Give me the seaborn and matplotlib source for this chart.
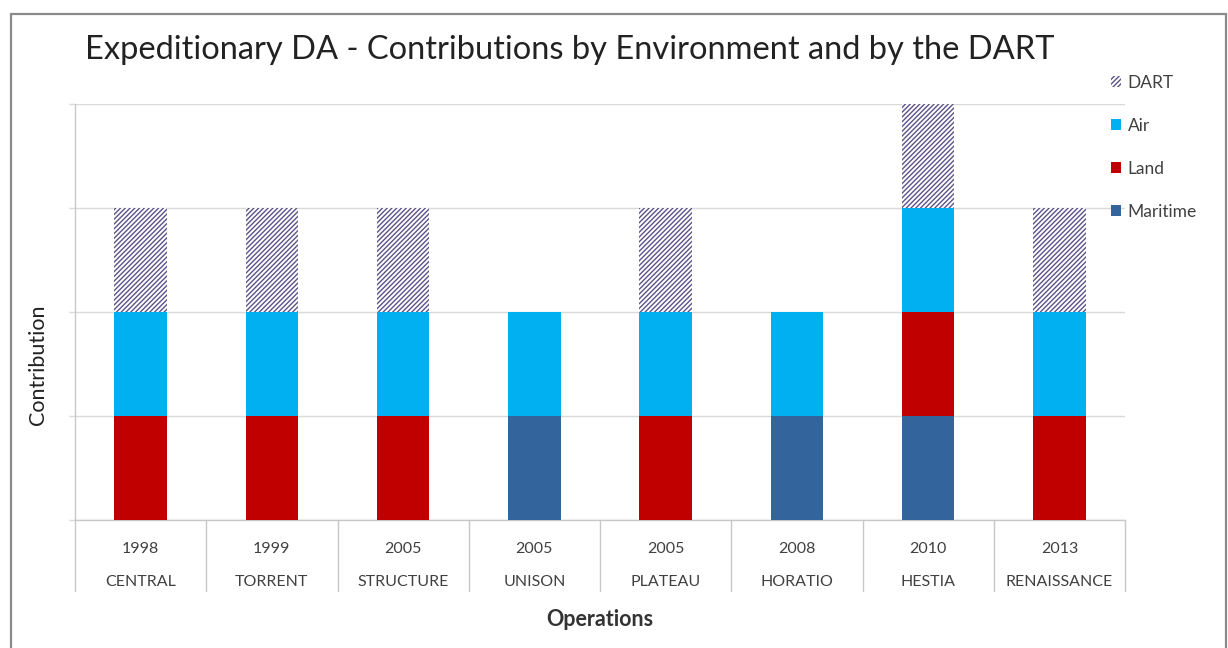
import matplotlib
matplotlib.use("Agg")
import matplotlib.pyplot as plt
import seaborn as sns
import pandas as pd
from matplotlib.patches import Patch, Rectangle

# Operations, their years and each environment's contribution
operations = ["CENTRAL", "TORRENT", "STRUCTURE", "UNISON", "PLATEAU",
              "HORATIO", "HESTIA", "RENAISSANCE"]
years = ["1998", "1999", "2005", "2005", "2005", "2008", "2010", "2013"]
maritime = [0, 0, 0, 1, 0, 1, 1, 0]
land = [1, 1, 1, 0, 1, 0, 1, 1]
air = [1, 1, 1, 1, 1, 1, 1, 1]
dart = [1, 1, 1, 0, 1, 0, 1, 1]

colors = {"Maritime": "#34649c", "Land": "#c00000", "Air": "#00b0f0"}
dart_hatch_color = "#5d5288"
text_color = "#404040"

sns.set_theme(style="white")
plt.rcParams["font.family"] = ["Lato", "DejaVu Sans"]
plt.rcParams["hatch.linewidth"] = 1.0

df = pd.DataFrame({
    "label": [f"{y}\n{o}" for y, o in zip(years, operations)],
    "Maritime": maritime, "Land": land, "Air": air, "DART": dart,
})
# cumulative tops for the stacked layers
df["top_maritime"] = df["Maritime"]
df["top_land"] = df["top_maritime"] + df["Land"]
df["top_air"] = df["top_land"] + df["Air"]
df["top_dart"] = df["top_air"] + df["DART"]

W, H = 1228, 648
fig = plt.figure(figsize=(W / 100, H / 100), dpi=100)
fig.patch.set_facecolor("white")

# outer chart frame
fig.patches.append(Rectangle((11 / W, -0.1), (1226 - 11) / W, 1.1 - 14 / H,
                             transform=fig.transFigure, fill=False,
                             edgecolor="#8a8a8a", linewidth=1.6))

ax = fig.add_axes([75 / W, 1 - 520 / H, 1050 / W, 416 / H])

bw = 0.4
hatch = "///////"
sns.barplot(data=df, x="label", y="top_dart", color="white", hatch=hatch,
            edgecolor=dart_hatch_color, linewidth=0, width=bw, saturation=1,
            ax=ax, zorder=2)
for col, name in [("top_air", "Air"), ("top_land", "Land"), ("top_maritime", "Maritime")]:
    sns.barplot(data=df, x="label", y=col, color=colors[name], linewidth=0,
                width=bw, saturation=1, ax=ax, zorder=3)

n = len(operations)
ax.set_xlim(-0.5, n - 0.5)
ax.set_ylim(0, 4)
ax.set_yticks(range(0, 5))
ax.set_yticklabels([])
ax.yaxis.grid(True, color="#d9d9d9", linewidth=1)
ax.set_axisbelow(True)
ax.tick_params(axis="y", left=True, length=4, color="#d9d9d9", width=1)
ax.tick_params(axis="x", length=0, pad=16, labelsize=11.5, labelcolor=text_color)
for t in ax.get_xticklabels():
    t.set_linespacing(2.75)
    t.set_verticalalignment("top")

for side in ["top", "right"]:
    ax.spines[side].set_visible(False)
for side in ["left", "bottom"]:
    ax.spines[side].set_color("#c8c8c8")
    ax.spines[side].set_linewidth(1)

# category separators below the axis
for i in range(n + 1):
    ax.plot([i - 0.5, i - 0.5], [0, -0.68], color="#c8c8c8", linewidth=1,
            clip_on=False, zorder=1)

ax.set_xlabel("Operations", fontsize=15.5, fontweight="bold", color="#333333")
ax.xaxis.set_label_coords(0.5, -(620 - 520) / 416)
ax.xaxis.label.set_verticalalignment("center")
ax.set_ylabel("Contribution", fontsize=15.5, color="#222222")
ax.yaxis.set_label_coords(-(75 - 38) / 1050, (520 - 365) / 416)
ax.yaxis.label.set_verticalalignment("center")

fig.text(85 / W, 1 - 50 / H, "Expeditionary DA - Contributions by Environment and by the DART",
         fontsize=23.5, color="#222222", va="center", ha="left")

handles = [
    Patch(facecolor="white", hatch=hatch, edgecolor=dart_hatch_color, linewidth=0, label="DART"),
    Patch(facecolor=colors["Air"], linewidth=0, label="Air"),
    Patch(facecolor=colors["Land"], linewidth=0, label="Land"),
    Patch(facecolor=colors["Maritime"], linewidth=0, label="Maritime"),
]
fig.legend(handles=handles, loc="upper left", bbox_to_anchor=(1111 / W, 1 - 75 / H),
           frameon=False, fontsize=12.5, labelcolor=text_color, labelspacing=1.55,
           handlelength=0.6, handleheight=0.6, handletextpad=0.35, borderaxespad=0,
           borderpad=0)

fig.savefig("out.png", dpi=100, facecolor="white")
